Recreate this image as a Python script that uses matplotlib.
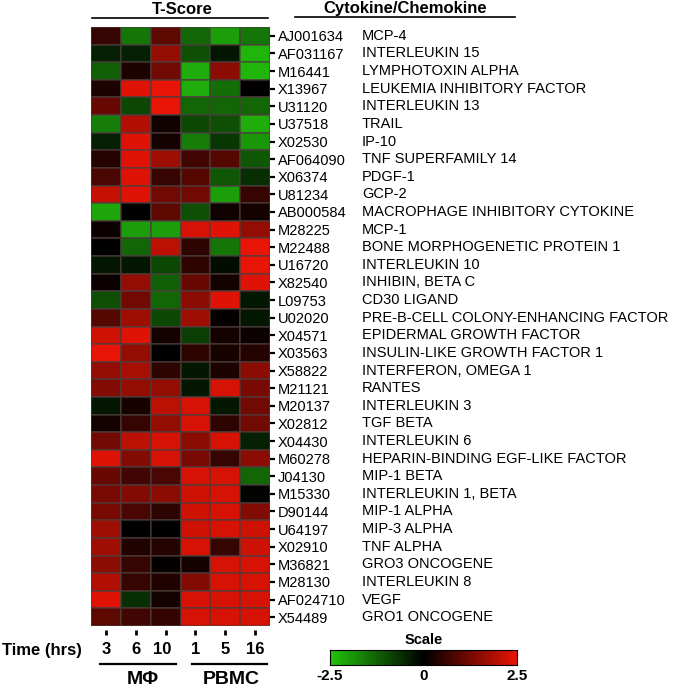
import numpy as np
import matplotlib
matplotlib.use("Agg")
import matplotlib.pyplot as plt
from matplotlib.colors import LinearSegmentedColormap, Normalize
from matplotlib.lines import Line2D

plt.rcParams['font.family'] = ['Liberation Sans', 'DejaVu Sans']

accessions = ["AJ001634", "AF031167", "M16441", "X13967", "U31120", "U37518", "X02530",
              "AF064090", "X06374", "U81234", "AB000584", "M28225", "M22488", "U16720",
              "X82540", "L09753", "U02020", "X04571", "X03563", "X58822", "M21121",
              "M20137", "X02812", "X04430", "M60278", "J04130", "M15330", "D90144",
              "U64197", "X02910", "M36821", "M28130", "AF024710", "X54489"]
genes = ["MCP-4", "INTERLEUKIN 15", "LYMPHOTOXIN ALPHA", "LEUKEMIA INHIBITORY FACTOR",
         "INTERLEUKIN 13", "TRAIL", "IP-10", "TNF SUPERFAMILY 14", "PDGF-1", "GCP-2",
         "MACROPHAGE INHIBITORY CYTOKINE", "MCP-1", "BONE MORPHOGENETIC PROTEIN 1",
         "INTERLEUKIN 10", "INHIBIN, BETA C", "CD30 LIGAND",
         "PRE-B-CELL COLONY-ENHANCING FACTOR", "EPIDERMAL GROWTH FACTOR",
         "INSULIN-LIKE GROWTH FACTOR 1", "INTERFERON, OMEGA 1", "RANTES", "INTERLEUKIN 3",
         "TGF BETA", "INTERLEUKIN 6", "HEPARIN-BINDING EGF-LIKE FACTOR", "MIP-1 BETA",
         "INTERLEUKIN 1, BETA", "MIP-1 ALPHA", "MIP-3 ALPHA", "TNF ALPHA", "GRO3 ONCOGENE",
         "INTERLEUKIN 8", "VEGF", "GRO1 ONCOGENE"]
time_labels = ["3", "6", "10", "1", "5", "16"]
groups = ["M\u03a6", "PBMC"]

# T-scores: columns = MPhi 3, 6, 10 h ; PBMC 1, 5, 16 h
tscores = np.array([
    [0.6, -1.5, 1.0, -1.3, -2.0, -1.5],
    [-0.4, -0.4, 1.6, -1.0, -0.3, -2.3],
    [-1.2, 0.3, 1.2, -2.2, 1.5, -2.3],
    [0.3, 2.4, 2.5, -2.2, -1.4, 0.0],
    [1.1, -0.9, 2.5, -1.3, -1.3, -1.3],
    [-1.6, 1.9, 0.15, -0.9, -1.0, -2.2],
    [-0.4, 2.4, 0.2, -1.6, -0.7, -1.9],
    [0.4, 2.4, 1.7, 0.7, 0.9, -1.1],
    [0.8, 2.4, 0.6, 0.9, -1.1, -0.6],
    [2.1, 2.4, 1.2, 1.2, -2.0, 0.6],
    [-2.1, 0.0, 1.0, -1.0, 0.15, 0.2],
    [0.1, -2.0, -2.0, 2.3, 2.4, 1.6],
    [0.0, -1.3, 2.0, 0.5, -1.5, 2.5],
    [-0.3, -0.3, -0.9, 0.5, -0.15, 2.5],
    [0.1, 1.6, -1.2, 1.1, 0.2, 2.4],
    [-1.0, 1.2, -1.3, 1.5, 2.4, -0.3],
    [0.9, 1.7, -0.9, 1.7, 0.05, -0.3],
    [2.2, 2.4, 0.2, -0.8, 0.2, 0.1],
    [2.5, 1.6, 0.0, 0.5, 0.25, 0.4],
    [1.6, 1.8, 0.5, -0.3, 0.3, 1.5],
    [1.4, 1.6, 1.6, -0.3, 2.3, 1.3],
    [-0.3, 0.25, 2.0, 2.3, -0.3, 1.2],
    [0.2, 0.6, 1.6, 2.3, 0.5, 1.2],
    [1.2, 2.0, 2.3, 1.5, 2.3, -0.4],
    [2.4, 1.4, 2.3, 1.3, 0.6, 1.5],
    [1.1, 0.7, 0.8, 2.3, 2.3, -1.3],
    [1.3, 1.4, 1.5, 2.2, 2.3, -0.05],
    [1.3, 0.8, 0.5, 2.2, 2.3, 1.4],
    [1.7, 0.0, 0.0, 2.2, 2.3, 2.2],
    [1.7, 0.35, 0.4, 2.3, 0.6, 2.2],
    [1.5, 0.6, 0.05, 0.2, 2.3, 2.3],
    [1.9, 0.6, 0.35, 1.4, 2.3, 2.3],
    [2.4, -0.6, 0.2, 2.3, 2.3, 2.3],
    [1.0, 0.7, 0.55, 2.3, 2.3, 2.3],
])
vmin, vmax = -2.5, 2.5

W, H = 674, 689
fig = plt.figure(figsize=(W / 100, H / 100), dpi=100)

def fx(px):
    return px / W

def fy(py):
    return 1 - py / H

cmap = LinearSegmentedColormap.from_list("gkr", ["#22c40c", "#000000", "#e81405"])
norm = Normalize(vmin, vmax)

# heatmap axes (pixel box 91..270 x 27..626)
ax = fig.add_axes([fx(91), fy(626), fx(270) - fx(91), fy(27) - fy(626)])
nrow, ncol = tscores.shape
ax.pcolormesh(np.arange(ncol + 1), np.arange(nrow + 1), tscores, cmap=cmap, norm=norm,
              edgecolor=(0.3, 0.24, 0.24, 0.6), linewidth=0.25)
ax.set_xlim(0, ncol)
ax.set_ylim(nrow, 0)
for s in ax.spines.values():
    s.set_visible(False)
ax.spines['bottom'].set_position(('outward', 3))

ax.yaxis.tick_right()
ax.set_yticks(np.arange(nrow) + 0.5)
ax.set_yticklabels(accessions, fontsize=10.5)
ax.tick_params(axis='y', length=3.5, width=1.6, pad=2, color='black')
ax.set_xticks(np.arange(ncol) + 0.5)
ax.set_xticklabels([])
ax.tick_params(axis='x', length=3.5, width=2, color='black')

px_per_col = (270 - 91) / ncol
gene_x = ncol + (362 - 270) / px_per_col
for i, g in enumerate(genes):
    ax.text(gene_x, i + 0.5, g, fontsize=10.5, va='center', ha='left', clip_on=False)

# headers
fig.text(fx(182), fy(10), "T-Score", fontsize=12, fontweight='bold', ha='center', va='center')
fig.add_artist(Line2D([fx(92), fx(268)], [fy(18), fy(18)], color='black', lw=1.2))
fig.text(fx(405), fy(9), "Cytokine/Chemokine", fontsize=12, fontweight='bold',
         ha='center', va='center')
fig.add_artist(Line2D([fx(295), fx(515)], [fy(17), fy(17)], color='black', lw=1.2))

# bottom labels
fig.text(fx(2), fy(650), "Time (hrs)", fontsize=12, fontweight='bold', ha='left', va='center')
for j, t in enumerate(time_labels):
    cx = 91 + (j + 0.5) * px_per_col
    if t == "10":
        cx -= 3
    fig.text(fx(cx), fy(650), t, fontsize=12, fontweight='bold', ha='center', va='center')
fig.add_artist(Line2D([fx(100), fx(176)], [fy(664), fy(664)], color='black', lw=1.6))
fig.add_artist(Line2D([fx(192), fx(267)], [fy(664), fy(664)], color='black', lw=1.6))
fig.text(fx(143), fy(680), groups[0], fontsize=14, fontweight='bold', ha='center', va='center')
fig.text(fx(231), fy(680), groups[1], fontsize=14, fontweight='bold', ha='center', va='center')

# colour scale
cax = fig.add_axes([fx(330), fy(665), fx(517) - fx(330), fy(650) - fy(665)])
grad = np.linspace(vmin, vmax, 256).reshape(1, -1)
cax.imshow(grad, aspect='auto', cmap=cmap, norm=norm, extent=[vmin, vmax, 0, 1])
cax.set_yticks([])
cax.set_xticks([vmin, 0, vmax])
cax.set_xticklabels(["-2.5", "0", "2.5"], fontsize=11, fontweight='bold')
cax.tick_params(axis='x', length=0, pad=3)
for s in cax.spines.values():
    s.set_linewidth(0.8)
fig.text(fx(424), fy(640), "Scale", fontsize=10.5, fontweight='bold', ha='center', va='center')

fig.savefig("out.png", dpi=100)
